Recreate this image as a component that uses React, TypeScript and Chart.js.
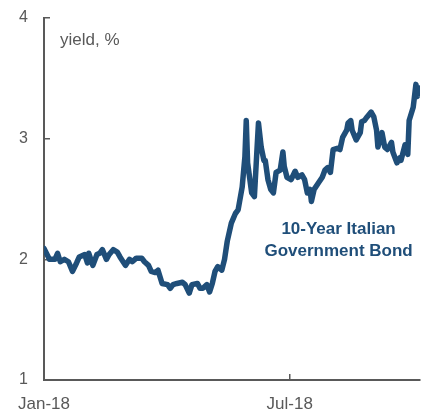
import React, { useEffect, useRef } from "react";
import { Chart, registerables } from "chart.js";

Chart.register(...registerables);

// Days since 1 Jan 2018
const days = [
  0, 4, 8, 10, 12, 15, 18, 21, 24, 26,
  30, 32, 33, 36, 39, 41, 43, 46, 48, 51,
  54, 56, 60, 63, 65, 68, 72, 74, 77, 79,
  82, 84, 87, 91, 93, 95, 98, 102, 104, 107,
  109, 113, 115, 117, 120, 122, 124, 126, 128, 131,
  133, 135, 138, 141, 143, 146, 148, 149, 150, 153,
  155, 157, 158, 160, 162, 163, 165, 167, 169, 171,
  174, 176, 177, 179, 182, 185, 187, 190, 192, 194,
  196, 197, 199, 202, 205, 207, 209, 211, 213, 216,
  218, 220, 223, 224, 226, 227, 230, 233, 234, 236,
  238, 241, 243, 245, 246, 249, 251, 253, 256, 257,
  260, 262, 263, 266, 268, 269, 272, 274, 275, 277,
];

// 10-year Italian government bond yield, %
const yields = [
  2.09, 2.0, 2.0, 2.05, 1.98, 2.0, 1.98, 1.9, 1.97, 2.02,
  2.04, 1.97, 2.05, 1.95, 2.04, 2.05, 2.08, 2.0, 2.04, 2.08,
  2.06, 2.02, 1.95, 2.0, 1.98, 2.01, 2.01, 1.98, 1.95, 1.9,
  1.89, 1.91, 1.8, 1.79, 1.76, 1.79, 1.8, 1.81, 1.79, 1.72,
  1.79, 1.8, 1.76, 1.76, 1.79, 1.73, 1.8, 1.9, 1.94, 1.91,
  2.0, 2.15, 2.3, 2.38, 2.41, 2.6, 2.85, 3.15, 2.8, 2.55,
  2.52, 2.93, 3.13, 2.93, 2.82, 2.82, 2.66, 2.58, 2.55, 2.72,
  2.74, 2.89, 2.77, 2.68, 2.66, 2.73, 2.68, 2.7, 2.66, 2.55,
  2.58, 2.48, 2.58, 2.63, 2.68, 2.74, 2.76, 2.72, 2.91, 2.92,
  2.91, 3.01, 3.07, 3.13, 3.15, 3.07, 2.99, 3.05, 3.14, 3.15,
  3.18, 3.22, 3.18, 3.07, 2.93, 3.05, 2.93, 2.91, 2.97, 2.89,
  2.8, 2.84, 2.82, 2.95, 2.87, 3.15, 3.26, 3.45, 3.35, 3.42,
];

const tickDays = [0, 181];
const tickLabels = ["Jan-18", "Jul-18"];
const yTicks = [1, 2, 3, 4];

const unitLabel = "yield, %";
const noteLines = ["10-Year Italian", "Government Bond"];
const noteDay = 217;
const noteYs = [2.25, 2.07];

const lineColor = "#1F4E79";
const axisColor = "#595959";
const fontFamily = '"Liberation Sans", Arial, sans-serif';

const textPlugin = {
  id: "texts",
  afterDraw(chart: any) {
    const { ctx, chartArea, scales } = chart;
    ctx.save();
    ctx.font = `17px ${fontFamily}`;
    ctx.fillStyle = axisColor;
    ctx.textBaseline = "middle";
    ctx.textAlign = "left";
    ctx.fillText(unitLabel, chartArea.left + 16, chartArea.top + 22);
    ctx.font = `bold 17px ${fontFamily}`;
    ctx.fillStyle = lineColor;
    ctx.textAlign = "center";
    const cx = scales.x.getPixelForValue(noteDay);
    noteLines.forEach((t, i) => {
      ctx.fillText(t, cx, scales.y.getPixelForValue(noteYs[i]));
    });
    ctx.restore();
  },
};

export default function App() {
  const ref = useRef<HTMLCanvasElement>(null);
  useEffect(() => {
    if (!ref.current) return;
    const chart = new Chart(ref.current, {
      type: "line",
      data: {
        datasets: [
          {
            data: days.map((d, i) => ({ x: d, y: yields[i] })),
            borderColor: lineColor,
            borderWidth: 5.5,
            pointRadius: 0,
            tension: 0,
            borderJoinStyle: "round",
            borderCapStyle: "round",
          },
        ],
      },
      options: {
        responsive: false,
        animation: false,
        layout: { padding: { top: 18, right: 9, left: 0, bottom: 0 } },
        plugins: { legend: { display: false }, tooltip: { enabled: false } },
        scales: {
          x: {
            type: "linear",
            min: 0,
            max: 277,
            afterBuildTicks: (scale: any) => {
              scale.ticks = tickDays.map((v) => ({ value: v }));
            },
            afterFit: (scale: any) => {
              scale.height = 31;
              scale.paddingLeft = 0;
              scale.paddingRight = 0;
            },
            ticks: {
              autoSkip: false,
              maxRotation: 0,
              padding: 20,
              color: axisColor,
              font: { size: 17, family: fontFamily },
              callback: (v: any) => tickLabels[tickDays.indexOf(v)] ?? "",
            },
            grid: {
              drawOnChartArea: false,
              tickLength: -6,
              color: axisColor,
              lineWidth: 1.5,
            },
            border: { color: axisColor, width: 2 },
          },
          y: {
            min: 1,
            max: 4,
            afterBuildTicks: (scale: any) => {
              scale.ticks = yTicks.map((v) => ({ value: v }));
            },
            afterFit: (scale: any) => {
              scale.width = 44;
              scale.paddingTop = 0;
              scale.paddingBottom = 0;
            },
            ticks: {
              padding: 22,
              color: axisColor,
              font: { size: 16, family: fontFamily },
            },
            grid: {
              drawOnChartArea: false,
              tickLength: -6,
              color: axisColor,
              lineWidth: 1.5,
            },
            border: { color: axisColor, width: 2 },
          },
        },
      },
      plugins: [textPlugin],
    } as any);
    return () => chart.destroy();
  }, []);
  return (
    <div style={{ position: "absolute", left: 0, top: 0, width: 429, height: 411, background: "#fff" }}>
      <canvas ref={ref} width={429} height={411} />
    </div>
  );
}
